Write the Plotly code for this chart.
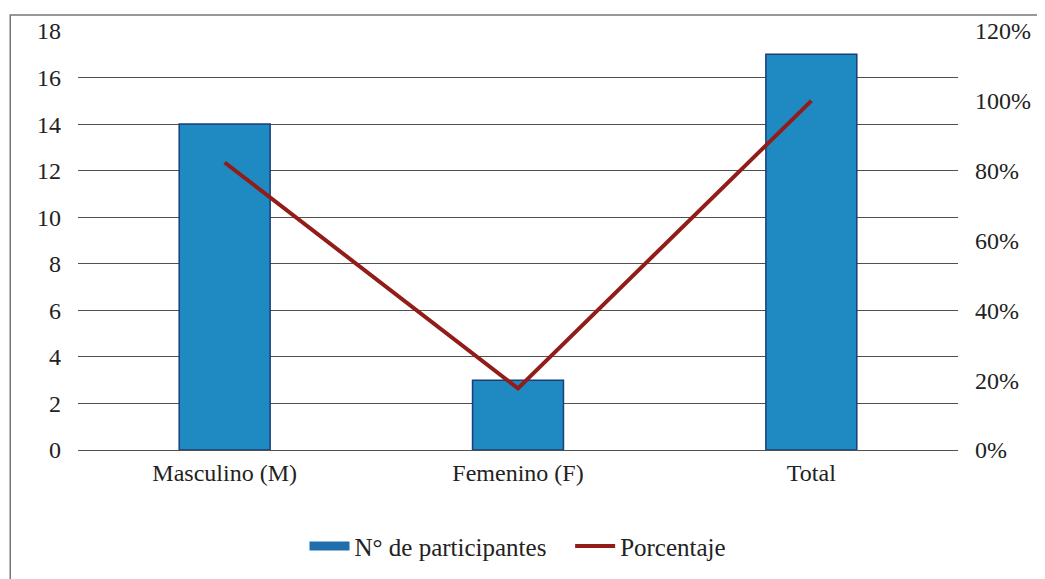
import plotly.graph_objects as go

categories = ["Masculino (M)", "Femenino (F)", "Total"]
participantes = [14, 3, 17]
porcentaje = [0.8235, 0.1765, 1.0]
left_ticks = [0, 2, 4, 6, 8, 10, 12, 14, 16, 18]
right_ticks = [0, 0.2, 0.4, 0.6, 0.8, 1.0, 1.2]
right_labels = ["0%", "20%", "40%", "60%", "80%", "100%", "120%"]

font = dict(family='"Liberation Serif", "Times New Roman", Times, serif', size=24, color="#222")
legend_font = dict(family='"Liberation Serif", "Times New Roman", Times, serif', size=25, color="#222")

fig = go.Figure()
fig.add_trace(go.Bar(
    x=categories, y=participantes, name="N° de participantes",
    marker=dict(color="#1f89c2", line=dict(color="#1b3d78", width=1.5)),
    width=0.31, yaxis="y", showlegend=False,
))
# legend proxy for bars (wide rectangle symbol as in reference)
fig.add_trace(go.Scatter(
    x=[None], y=[None], name="N° de participantes\u00a0\u00a0\u00a0", mode="lines",
    line=dict(color="#1f6fae", width=9), yaxis="y",
))
fig.add_trace(go.Scatter(
    x=categories, y=porcentaje, name="Porcentaje", mode="lines",
    line=dict(color="#921c18", width=4), yaxis="y2",
))

fig.update_layout(
    width=1037, height=571,
    margin=dict(l=70, r=87, t=23, b=129, autoexpand=False),
    paper_bgcolor="white", plot_bgcolor="white",
    font=font,
    showlegend=True,
    legend=dict(orientation="h", x=0.5, xanchor="center", y=-0.175, yanchor="top",
                font=legend_font, itemwidth=40, traceorder="normal", tracegroupgap=0),
    xaxis=dict(showgrid=False, showline=False, ticks="", tickfont=font,
               ticklabelstandoff=6, automargin=False),
    yaxis=dict(range=[0, 18], tickvals=left_ticks, showgrid=True,
               gridcolor="#505050", gridwidth=1.3, zeroline=True, zerolinecolor="#505050",
               zerolinewidth=1.3, showline=False, ticks="", tickfont=font,
               ticklabelstandoff=16, automargin=False),
    yaxis2=dict(range=[0, 1.2], tickvals=right_ticks, ticktext=right_labels,
                overlaying="y", side="right", showgrid=False, zeroline=False,
                showline=False, ticks="", tickfont=font, ticklabelstandoff=16,
                automargin=False),
)

fig.add_shape(type="rect", xref="paper", yref="paper",
              x0=-0.077, x1=1.11, y0=-0.4, y1=1.038,
              line=dict(color="#777", width=1.5), layer="below")

fig.write_html("out.html")
